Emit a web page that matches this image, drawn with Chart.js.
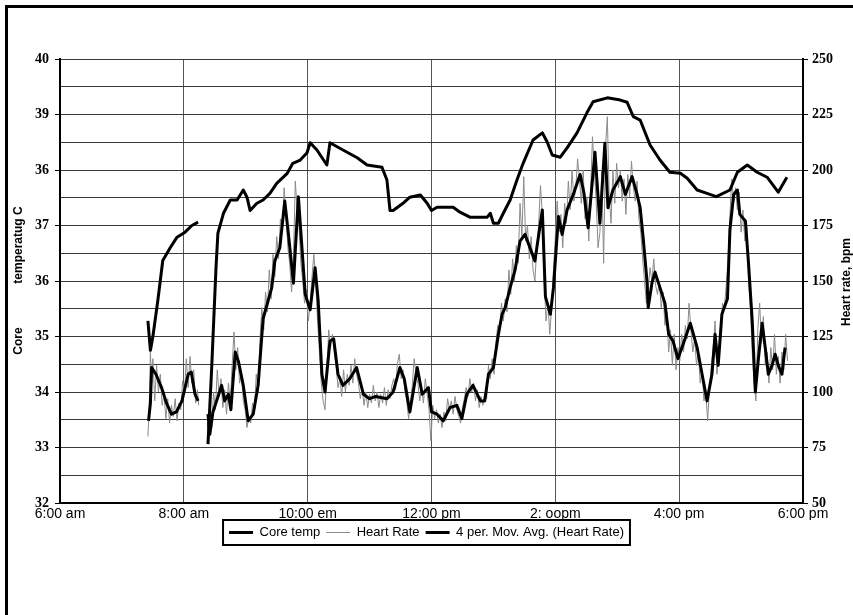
<!DOCTYPE html>
<html><head><meta charset="utf-8">
<script src="https://cdn.jsdelivr.net/npm/chart.js@4.4.1/dist/chart.umd.min.js"></script>
<style>
html,body{margin:0;padding:0;background:#fff;}
#wrap{position:relative;width:853px;height:615px;overflow:hidden;background:#fff;}
#frame{position:absolute;left:5px;top:5px;width:900px;height:700px;border-left:3px solid #000;border-top:3px solid #000;pointer-events:none;}
canvas{position:absolute;left:0;top:0;}
</style></head><body>
<div id="wrap"><canvas id="c" width="853" height="615"></canvas><div id="frame"></div></div>
<script>
// ---- tick labels (as printed on the reference) ----
const xTickLabels = ["6:00 am","8:00 am","10:00 em","12:00 pm","2: oopm","4:00 pm","6:00 pm"];
const leftTickLabels = ["32","33","34","35","36","37","36","39","40"];
const rightTickLabels = ["50","75","100","125","150","175","200","225","250"];
const seriesNames = ["Core temp","Heart Rate","4 per. Mov. Avg. (Heart Rate)"];
const leftTitle = ["Core","temperatug C"];
const rightTitle = "Heart rate, bpm";

// ---- Core temperature (hours, deg C) ----
const coreTimes = [7.42,7.46,7.50,7.58,7.66,7.78,7.89,8.02,8.13,8.23,8.30,
 8.39,8.45,8.52,8.55,8.64,8.75,8.86,8.96,9.02,9.07,9.18,9.28,9.39,9.50,9.67,9.76,9.88,9.99,
 10.04,10.15,10.31,10.36,10.57,10.80,10.96,11.20,11.28,11.33,11.38,11.54,11.65,11.82,11.93,
 12.00,12.09,12.35,12.46,12.62,12.90,12.95,13.00,13.08,13.16,13.27,13.38,13.48,13.64,13.79,
 13.87,13.95,14.08,14.19,14.35,14.51,14.61,14.84,15.05,15.16,15.26,15.37,15.53,15.69,15.85,
 16.02,16.13,16.29,16.45,16.60,16.82,16.94,17.10,17.26,17.42,17.60,17.74];
const coreTemps = [35.28,34.75,35.0,35.65,36.37,36.6,36.79,36.88,37.0,37.06,null,
 33.06,34.44,36.25,36.86,37.22,37.46,37.46,37.64,37.51,37.27,37.40,37.46,37.58,37.76,37.94,38.12,38.18,38.31,
 38.49,38.36,38.09,38.49,38.36,38.22,38.09,38.05,37.82,37.27,37.27,37.40,37.51,37.55,37.40,
 37.27,37.33,37.33,37.24,37.15,37.15,37.22,37.04,37.04,37.22,37.46,37.82,38.12,38.54,38.67,
 38.50,38.27,38.23,38.40,38.67,39.03,39.23,39.30,39.26,39.22,38.96,38.90,38.45,38.18,37.96,
 37.94,37.85,37.64,37.58,37.52,37.64,37.96,38.09,37.96,37.87,37.60,37.87];

// ---- Heart rate raw (hours, bpm) ----
const hrTimes = [7.42,7.44,7.46,7.48,7.50,7.53,7.56,7.59,7.62,7.65,7.68,7.71,7.74,7.77,7.80,7.83,7.86,7.89,7.92,7.95,7.98,8.01,8.04,8.07,8.10,8.13,8.16,8.19,8.22,8.24,8.30,
 8.38,8.40,8.42,8.45,8.48,8.51,8.54,8.57,8.60,8.63,8.66,8.69,8.72,8.75,8.78,8.81,8.84,8.87,8.90,8.93,8.96,8.99,
 9.02,9.05,9.08,9.11,9.14,9.17,9.20,9.23,9.26,9.29,9.32,9.35,9.38,9.41,9.44,9.47,9.50,9.53,9.56,9.59,9.62,9.65,9.68,9.71,9.74,9.77,9.80,9.83,9.86,9.89,9.92,9.95,9.98,
 10.01,10.04,10.07,10.10,10.13,10.16,10.19,10.22,10.25,10.28,10.31,10.34,10.37,10.40,10.43,10.46,10.49,10.52,10.55,10.58,10.61,10.64,10.67,10.70,10.73,10.76,10.79,10.82,10.85,10.88,10.91,10.94,10.97,
 11.00,11.03,11.06,11.09,11.12,11.15,11.18,11.21,11.24,11.27,11.30,11.33,11.36,11.39,11.42,11.45,11.48,11.51,11.54,11.57,11.60,11.63,11.66,11.69,11.72,11.75,11.78,11.81,11.84,11.87,11.90,11.93,11.96,11.99,
 12.02,12.05,12.08,12.11,12.14,12.17,12.20,12.23,12.26,12.29,12.32,12.35,12.38,12.41,12.44,12.47,12.50,12.53,12.56,12.59,12.62,12.65,12.68,12.71,12.74,12.77,12.80,12.83,12.86,12.89,12.92,12.95,12.98,
 13.01,13.04,13.07,13.10,13.13,13.16,13.19,13.22,13.25,13.28,13.31,13.34,13.37,13.40,13.43,13.46,13.49,13.52,13.55,13.58,13.61,13.64,13.67,13.70,13.73,13.76,13.79,13.82,13.85,13.88,13.91,13.94,13.97,
 14.00,14.03,14.06,14.09,14.12,14.15,14.18,14.21,14.24,14.27,14.30,14.33,14.36,14.39,14.42,14.45,14.48,14.51,14.54,14.57,14.60,14.63,14.66,14.69,14.72,14.75,14.78,14.81,14.84,14.87,14.90,14.93,14.96,14.99,
 15.02,15.05,15.08,15.11,15.14,15.17,15.20,15.23,15.26,15.29,15.32,15.35,15.38,15.41,15.44,15.47,15.50,15.53,15.56,15.59,15.62,15.65,15.68,15.71,15.74,15.77,15.80,15.83,15.86,15.89,15.92,15.95,15.98,
 16.01,16.04,16.07,16.10,16.13,16.16,16.19,16.22,16.25,16.28,16.31,16.34,16.37,16.40,16.43,16.46,16.49,16.52,16.55,16.58,16.61,16.64,16.67,16.70,16.73,16.76,16.79,16.82,16.85,16.88,16.91,16.94,16.97,
 17.00,17.03,17.06,17.09,17.12,17.15,17.18,17.21,17.24,17.27,17.30,17.33,17.36,17.39,17.42,17.45,17.48,17.51,17.54,17.57,17.60,17.63,17.66,17.69,17.72,17.75];
const hrValues = [80,92,118,104,115,96,112,100,108,94,99,88,97,86,94,89,97,87,95,92,105,99,115,102,116,104,110,95,101,94,null,
 86,79,94,84,100,92,110,98,106,93,101,90,104,95,112,127,110,120,104,108,96,92,
 84,89,86,95,92,108,100,124,138,128,145,136,155,142,162,152,170,160,178,172,192,180,165,158,145,160,195,182,175,158,150,140,146,
 132,140,152,162,150,132,118,104,96,92,110,128,120,126,118,112,102,106,98,110,100,108,103,112,104,115,108,104,97,102,94,100,93,
 99,95,103,96,100,93,99,95,102,94,101,97,103,106,101,113,117,106,110,100,96,88,95,103,115,108,104,96,102,95,106,99,92,78,
 94,88,92,86,90,84,91,87,97,92,96,90,98,92,89,86,93,97,102,98,106,100,104,96,101,93,98,94,100,97,112,106,115,
 108,122,130,126,140,132,142,136,155,144,160,150,166,158,185,170,197,168,175,160,170,155,150,165,175,193,180,150,132,140,126,138,155,
 170,186,172,180,165,185,176,195,182,200,186,192,205,196,185,200,178,188,168,190,215,200,186,165,172,200,158,210,224,188,176,200,185,203,
 192,200,186,196,180,198,188,204,192,186,195,178,172,160,150,140,146,156,150,160,148,144,150,138,145,130,136,118,128,112,126,110,120,
 114,126,118,130,124,140,128,118,124,112,118,104,110,96,100,87,102,112,120,132,108,118,130,140,138,148,160,180,196,185,192,182,190,
 172,182,168,175,150,138,118,104,96,128,140,122,134,112,118,104,120,110,126,108,116,104,118,110,126,114];

// ---- 4-period moving average of heart rate (hours, bpm) ----
const maTimes = [7.43,7.46,7.48,7.55,7.64,7.72,7.80,7.88,7.97,8.07,8.12,8.18,8.23,8.30,
 8.39,8.42,8.47,8.53,8.61,8.66,8.72,8.76,8.83,8.88,8.96,9.04,9.12,9.20,9.28,9.36,9.42,9.47,9.55,9.63,9.69,9.77,9.85,9.91,9.96,
 10.04,10.12,10.17,10.23,10.28,10.36,10.42,10.49,10.57,10.68,10.79,10.90,11.00,11.10,11.28,11.38,11.49,11.56,11.65,11.77,11.85,11.95,
 12.00,12.09,12.19,12.30,12.41,12.49,12.57,12.67,12.79,12.86,12.92,13.00,13.08,13.14,13.19,13.27,13.35,13.43,13.51,13.59,13.67,13.79,13.84,13.92,13.97,
 14.05,14.11,14.19,14.29,14.40,14.46,14.53,14.64,14.72,14.80,14.85,14.93,15.05,15.13,15.24,15.32,15.37,15.42,15.48,15.50,15.56,15.61,15.69,15.77,15.83,15.90,15.98,
 16.07,16.18,16.29,16.37,16.45,16.53,16.58,16.63,16.69,16.78,16.82,16.88,16.94,16.98,17.07,17.12,17.18,17.23,17.28,17.34,17.39,17.44,17.50,17.55,17.60,17.66,17.71];
const maValues = [87,95,111,108,102,95,90,91,96,108,109,99,96,null,
 90,81,91,96,103,96,99,92,118,114,103,87,90,103,133,141,147,159,165,186,171,149,188,164,144,
 137,156,141,108,100,123,124,108,103,106,111,99,97,98,97,100,111,106,91,111,99,102,
 91,90,87,93,94,88,99,103,96,96,108,111,126,135,138,147,155,168,171,165,159,182,143,135,147,
 179,171,182,189,198,190,174,208,176,212,183,191,197,189,197,189,183,169,150,138,149,154,147,140,126,123,115,
 122,131,120,108,96,108,126,112,135,142,173,189,191,180,177,158,132,100,115,131,120,108,112,117,112,108,120];

const pts = (xs, ys) => xs.map((x, i) => ({x: x, y: ys[i]}));

const frameTitles = {
  id: 'axisTitles',
  afterDraw(chart) {
    const ctx = chart.ctx;
    ctx.save();
    ctx.fillStyle = '#000';
    ctx.font = 'bold 12px "Liberation Sans", Arial, sans-serif';
    ctx.textAlign = 'center';
    ctx.textBaseline = 'middle';
    ctx.translate(19, 0);
    ctx.rotate(-Math.PI / 2);
    ctx.fillText(leftTitle[0], -341, 0);
    ctx.fillText(leftTitle[1], -245, 0);
    ctx.restore();
    ctx.save();
    ctx.fillStyle = '#000';
    ctx.font = 'bold 12px "Liberation Sans", Arial, sans-serif';
    ctx.textAlign = 'center';
    ctx.textBaseline = 'middle';
    ctx.translate(847, 282);
    ctx.rotate(-Math.PI / 2);
    ctx.fillText(rightTitle, 0, 0);
    ctx.restore();
    // legend frame
    const hb = chart.legend && chart.legend.legendHitBoxes;
    if (hb && hb.length) {
      const l = Math.min(...hb.map(b => b.left));
      const r = Math.max(...hb.map(b => b.left + b.width));
      const t = Math.min(...hb.map(b => b.top));
      const bt = Math.max(...hb.map(b => b.top + b.height));
      ctx.save();
      ctx.strokeStyle = '#000';
      ctx.lineWidth = 2;
      ctx.strokeRect(l - 6, t - 6, r - l + 12, bt - t + 12);
      ctx.restore();
    }
  }
};

const numFont = {family: '"Liberation Serif", "Times New Roman", serif', weight: 'bold', size: 14};
const xFont = {family: '"Liberation Sans Narrow", "Liberation Sans", Arial, sans-serif', size: 14};

new Chart(document.getElementById('c'), {
  type: 'line',
  data: {
    datasets: [
      {label: seriesNames[0], data: pts(coreTimes, coreTemps), yAxisID: 'y', borderColor: '#000', backgroundColor: '#000', borderWidth: 3, order: 1},
      {label: seriesNames[1], data: pts(hrTimes, hrValues), yAxisID: 'y1', borderColor: '#8a8a8a', backgroundColor: '#8a8a8a', borderWidth: 1, order: 3},
      {label: seriesNames[2], data: pts(maTimes, maValues), yAxisID: 'y1', borderColor: '#000', backgroundColor: '#000', borderWidth: 3, order: 2}
    ]
  },
  options: {
    responsive: false,
    animation: false,
    spanGaps: false,
    layout: {padding: {top: 59, left: 0, right: 0, bottom: 66}},
    elements: {point: {radius: 0}, line: {tension: 0, borderJoinStyle: 'round'}},
    plugins: {
      tooltip: {enabled: false},
      legend: {
        position: 'bottom',
        labels: {
          usePointStyle: true, pointStyle: 'line', pointStyleWidth: 24,
          color: '#000', padding: 6,
          font: {family: '"Liberation Sans Narrow", "Liberation Sans", Arial, sans-serif', size: 13},
          sort: (a, b) => a.datasetIndex - b.datasetIndex
        }
      }
    },
    scales: {
      x: {
        type: 'linear', min: 6, max: 18,
        ticks: {stepSize: 2, color: '#000', font: xFont, maxRotation: 0, padding: 3,
          callback: v => xTickLabels[Math.round((v - 6) / 2)]},
        grid: {color: '#555', lineWidth: 1, drawTicks: false},
        border: {color: '#000', width: 2},
        afterFit: s => { s.height = 17; }
      },
      y: {
        position: 'left', min: 32, max: 40,
        ticks: {stepSize: 0.5, autoSkip: false, color: '#000', font: numFont, padding: 6,
          callback: v => Number.isInteger(v) ? leftTickLabels[v - 32] : ''},
        grid: {color: '#3a3a3a', lineWidth: 1, tickLength: 5,
          tickColor: c => (c.tick && Number.isInteger(c.tick.value)) ? '#000' : 'rgba(0,0,0,0)'},
        border: {color: '#000', width: 2},
        afterFit: s => { s.width = 60; }
      },
      y1: {
        position: 'right', min: 50, max: 250,
        ticks: {stepSize: 25, autoSkip: false, color: '#000', font: numFont, padding: 4,
          callback: v => rightTickLabels[Math.round((v - 50) / 25)]},
        grid: {drawOnChartArea: false, tickLength: 5, color: '#000'},
        border: {color: '#000', width: 2},
        afterFit: s => { s.width = 50; }
      }
    }
  },
  plugins: [frameTitles]
});
</script>
</body></html>
